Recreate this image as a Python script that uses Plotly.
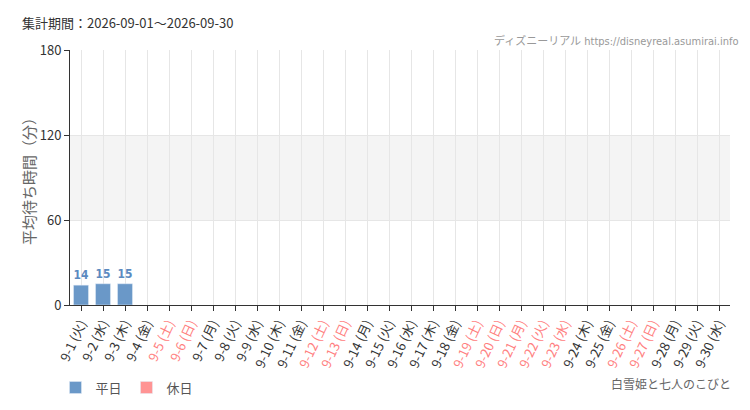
import plotly.graph_objects as go

days = list(range(1, 31))
weekdays_jp = ["火", "水", "木", "金", "土", "日", "月"]
labels = [f"9-{d} ({weekdays_jp[(d - 1) % 7]})" for d in days]
holidays = [5, 6, 12, 13, 19, 20, 21, 22, 23, 26, 27]
weekday_vals = [14, 15, 15] + [None] * 27
holiday_vals = [None] * 30

BLUE = "#6a98c8"
PINK = "#ff9494"
HOL_TXT = "#ff8080"

ticktext = [
    (f'<span style="color:{HOL_TXT}">{l}</span>' if d in holidays else l)
    for d, l in zip(days, labels)
]

fig = go.Figure()
fig.add_trace(go.Bar(
    x=labels, y=weekday_vals, name="平日", marker_color=BLUE,
    text=[("" if v is None else str(v)) for v in weekday_vals],
    textposition="outside", cliponaxis=False,
    textfont=dict(color="#5b8ac0", size=15, family="DejaVu Sans Condensed, sans-serif", weight="bold"),
))
fig.add_trace(go.Bar(
    x=labels, y=holiday_vals, name="休日", marker_color=PINK,
    textposition="outside",
))

fig.add_shape(type="rect", xref="paper", yref="y", x0=0, x1=1, y0=60, y1=120,
              fillcolor="#f4f4f4", line_width=0, layer="below")

fig.update_layout(
    width=742, height=402,
    margin=dict(l=62, r=20, t=42, b=105, autoexpand=False),
    paper_bgcolor="white", plot_bgcolor="white",
    barmode="overlay", bargap=0.32,
    font=dict(family="Noto Sans CJK JP, sans-serif", color="#333"),
    showlegend=True,
    legend=dict(orientation="h", x=-0.022, xanchor="left", y=-0.265, yanchor="top",
                font=dict(size=13, color="#555"), itemwidth=30, traceorder="normal"),
    xaxis=dict(
        tickmode="array", tickvals=labels, ticktext=ticktext, automargin=False,
        tickangle=-65, tickfont=dict(size=13, color="#333"),
        showgrid=True, gridcolor="#e6e6e6", gridwidth=1,
        showline=True, linecolor="#333", linewidth=1,
        ticks="outside", ticklen=5, tickcolor="#333",
        range=[-0.5, 29.5],
    ),
    yaxis=dict(
        range=[0, 180], tickvals=[0, 60, 120, 180], automargin=False,
        tickfont=dict(size=13, color="#333"),
        showgrid=True, gridcolor="#e6e6e6", gridwidth=1,
        showline=True, linecolor="#333", linewidth=1,
        ticks="outside", ticklen=5, tickcolor="#333",
        zeroline=False,
        title=dict(text="平均待ち時間（分）", font=dict(size=15, color="#666"), standoff=0),
    ),
    annotations=[
        dict(text="集計期間：2026-09-01～2026-09-30", xref="paper", yref="paper",
             x=-0.076, y=1.0, xanchor="left", yanchor="bottom", yshift=16, showarrow=False,
             font=dict(size=13, color="#333")),
        dict(text="ディズニーリアル https://disneyreal.asumirai.info", xref="paper", yref="paper",
             x=1.0, y=1.0, xanchor="right", yanchor="bottom", showarrow=False, xshift=10,
             font=dict(size=11, color="#999", family="DejaVu Sans Condensed, Noto Sans CJK JP, sans-serif")),
        dict(text="白雪姫と七人のこびと", xref="paper", yref="paper",
             x=1.0, y=-0.265, xanchor="right", yanchor="top", showarrow=False, xshift=3,
             font=dict(size=12, color="#666")),
    ],
)

fig.write_html("out.html")
